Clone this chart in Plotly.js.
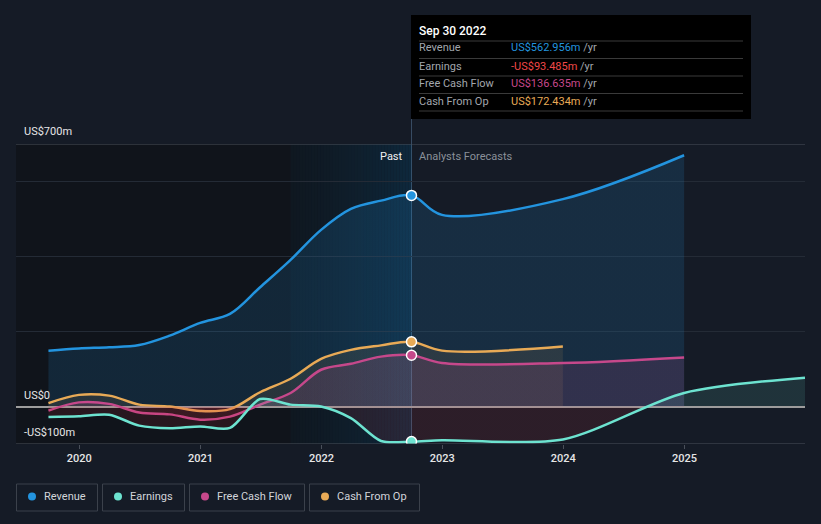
<!DOCTYPE html>
<html><head><meta charset="utf-8">
<script src="https://cdn.plot.ly/plotly-3.0.1.min.js"></script>
<style>html,body{margin:0;padding:0;background:#151b26;}#chart{width:821px;height:524px;}</style>
</head><body><div id="chart"></div>
<script>
// ---- data (US$ millions) ----
const pastDates = ['2019-09-30','2019-12-31','2020-03-31','2020-06-30','2020-09-30','2020-12-31','2021-03-31','2021-06-30','2021-09-30','2021-12-31','2022-03-31','2022-06-30','2022-09-30'];
const revenuePast  = [149,155,158,164,189,223,247,318,391,471,527,549,562.956];
const earningsPast = [-28,-26,-22,-51,-58,-53,-57,20,5,0,-31,-92,-93.485];
const fcfPast      = [-11,11,7,-16,-21,-35,-27,5,36,98,114,133,136.635];
const cfoPast      = [9,31,29,5,0,-12,-7,38,74,127,151,163,172.434];

const revenueForecastDates  = ['2022-12-31','2023-12-31','2024-12-31'];
const revenueForecast       = [511,553,670];
const earningsForecastDates = ['2022-12-31','2023-12-31','2024-12-31','2025-12-31'];
const earningsForecast      = [-90,-88,36,77];
const fcfForecastDates      = ['2022-12-31','2023-12-31','2024-12-31'];
const fcfForecast           = [116,116,131];
const cfoForecastDates      = ['2022-12-31','2023-12-31'];
const cfoForecast           = [149,160];

const yearTicks = ['2020-01-01','2021-01-01','2022-01-01','2023-01-01','2024-01-01','2025-01-01'];
const yearLabels = ['2020','2021','2022','2023','2024','2025'];
const seriesNames = ['Revenue','Earnings','Free Cash Flow','Cash From Op'];
const tooltipDate = 'Sep 30 2022';
const tooltipValues = ['US$562.956m','-US$93.485m','US$136.635m','US$172.434m'];

// ---- styling ----
const C = {rev:'#2394df', earn:'#6de3d0', fcf:'#c6488b', cfo:'#e8aa56'};
const FONT = 'Roboto, "Open Sans", Arial, sans-serif';
const W = 821, H = 524, L = 16, R = 16, T = 144, B = 80;
const pw = W - L - R, ph = H - T - B;
const px = x => (x - L) / pw;
const py = y => (H - B - y) / ph;

function hexA(hex, a){const n=parseInt(hex.slice(1),16);return `rgba(${n>>16},${(n>>8)&255},${n&255},${a})`;}
function splitFill(hex, aPos, aNeg){
  return {type:'vertical', start:-0.5, stop:0.5,
    colorscale:[[0, hexA('#d8303c', aNeg)], [1, hexA(hex, aPos)]]};
}

const lastPast = pastDates[pastDates.length-1];
function series(dates, vals, fdates, fvals, color, aPos, aNeg, sm){
  return {x: dates.concat(fdates), y: vals.concat(fvals), type:'scatter', mode:'lines',
    line:{color:color, width:2.5, shape:'spline', smoothing:sm},
    fill:'tozeroy', fillgradient: splitFill(color, aPos, aNeg), hoverinfo:'skip', showlegend:false};
}
function marker(vals, color){
  return {x:[lastPast], y:[vals[vals.length-1]], type:'scatter', mode:'markers',
    marker:{size:10, color:color, line:{color:'#ffffff', width:1.5}}, hoverinfo:'skip', showlegend:false};
}

const traces = [
  series(pastDates, revenuePast, revenueForecastDates, revenueForecast, C.rev, 0.15, 0.13, 1),
  series(pastDates, cfoPast, cfoForecastDates, cfoForecast, C.cfo, 0.10, 0.10, 1),
  series(pastDates, fcfPast, fcfForecastDates, fcfForecast, C.fcf, 0.15, 0.10, 1),
  series(pastDates, earningsPast, earningsForecastDates, earningsForecast, C.earn, 0.12, 0.12, 0.8),
  marker(revenuePast, C.rev), marker(cfoPast, C.cfo), marker(fcfPast, C.fcf), marker(earningsPast, C.earn)
];

const xRange = ['2019-06-24','2025-12-31'];
const shapes = [];
// darker past background
shapes.push({type:'rect', xref:'x', yref:'paper', x0:xRange[0], x1:'2021-09-30', y0:0, y1:1, fillcolor:'#10141b', line:{width:0}, layer:'below'});
// highlighted last-year gradient
(function(){
  const t0 = new Date('2021-09-30').getTime(), t1 = new Date('2022-09-30').getTime();
  const c0=[15,24,33], c1=[14,40,60], n=40;
  for(let i=0;i<n;i++){
    const f=(i+0.5)/n, g=Math.pow(f,1.4);
    const c=c0.map((v,k)=>Math.round(v+(c1[k]-v)*g));
    shapes.push({type:'rect', xref:'x', yref:'paper', x0:new Date(t0+(t1-t0)*i/n).toISOString(),
      x1:new Date(t0+(t1-t0)*(i+1)/n + 3600e3*12).toISOString(), y0:0, y1:1,
      fillcolor:`rgb(${c[0]},${c[1]},${c[2]})`, line:{width:0}, layer:'below'});
  }
})();
// cursor line
shapes.push({type:'line', xref:'x', yref:'paper', x0:lastPast, x1:lastPast, y0:0, y1:py(15), line:{color:'rgba(110,150,190,0.4)', width:1}, layer:'below'});
// top and bottom lines
shapes.push({type:'line', xref:'paper', yref:'y', x0:0, x1:1, y0:700, y1:700, line:{color:'#4a505a', width:1.2}, layer:'above'});
shapes.push({type:'line', xref:'paper', yref:'y', x0:0, x1:1, y0:-100, y1:-100, line:{color:'#4a505a', width:1.2}, layer:'above'});
// tooltip box
shapes.push({type:'rect', xref:'paper', yref:'paper', x0:px(411), x1:px(751), y0:py(119), y1:py(15), fillcolor:'#000000', line:{width:0}, layer:'above'});
[41,58.5,76,93.5,111].forEach(y=>shapes.push({type:'line', xref:'paper', yref:'paper', x0:px(419), x1:px(743), y0:py(y), y1:py(y), line:{color:'#3a3a3a', width:1}, layer:'above'}));
// legend boxes
const legendBoxes = [[16.5,97.5,44],[102.5,184.5,130],[189.5,304.5,217],[309.5,419.5,337]];
const legendColors = [C.rev, C.earn, C.fcf, C.cfo];
legendBoxes.forEach((b,i)=>{
  shapes.push({type:'rect', xref:'paper', yref:'paper', x0:px(b[0]), x1:px(b[1]), y0:py(511), y1:py(484), line:{color:'#3b414b', width:1}, fillcolor:'rgba(0,0,0,0)', layer:'above'});
  shapes.push({type:'circle', xref:'paper', yref:'paper', xsizemode:'pixel', ysizemode:'pixel', xanchor:px(b[0]+15.5), yanchor:py(496.5), x0:-4, x1:4, y0:-4, y1:4, fillcolor:legendColors[i], line:{width:0}, layer:'above'});
});

const ann = [];
const SHIFT = 2;
function txt(x, y, text, color, size, anchor, weight){
  const a = anchor||'left';
  ann.push({xref:'paper', yref:'paper', x:px(a==='left'? x-SHIFT : x+SHIFT), y:py(y), text:text, showarrow:false, xanchor:a, yanchor:'middle',
    font:{family:FONT, size:size||11, color:color, weight:weight||400}});
}
txt(24, 131, 'US$700m', '#e6e6e6', 11);
txt(24, 395, 'US$0', '#e6e6e6', 11);
txt(24, 432, '-US$100m', '#e6e6e6', 11);
txt(403, 156, 'Past', '#f0f0f0', 11, 'right');
txt(419, 156, 'Analysts Forecasts', '#8a9099', 11);
txt(419, 31, tooltipDate, '#ffffff', 12, 'left', 500);
const tipColors = [C.rev, '#f04848', C.fcf, C.cfo];
const rowsY = [48, 66, 83, 101];
seriesNames.forEach((n,i)=>{
  txt(419, rowsY[i], n, '#a2a6ad', 11);
  txt(511, rowsY[i], `<span style="color:${tipColors[i]}">${tooltipValues[i]}</span> /yr`, '#a2a6ad', 11);
});
legendBoxes.forEach((b,i)=> txt(b[2], 496.5, seriesNames[i], '#d2d5da', 11));

const layout = {
  width:W, height:H, margin:{l:L, r:R, t:T, b:B},
  paper_bgcolor:'#151b26', plot_bgcolor:'#151b26',
  font:{family:FONT, color:'#e6e6e6'},
  showlegend:false, hovermode:false,
  xaxis:{type:'date', range:xRange, tickvals:yearTicks, ticktext:yearLabels, ticks:'outside', ticklen:4, tickcolor:'#4a505a',
    showgrid:false, zeroline:false, showline:false, tickfont:{size:11, color:'#e6e6e6', family:FONT, weight:500}, fixedrange:true},
  yaxis:{range:[-100,700], tickvals:[-100,0,200,400,600,700], showticklabels:false, ticks:'', gridcolor:'#242b36', gridwidth:1,
    zeroline:true, zerolinecolor:'#9d9d9d', zerolinewidth:2, showline:false, fixedrange:true},
  shapes:shapes, annotations:ann
};
Plotly.newPlot('chart', traces, layout, {displayModeBar:false, staticPlot:true});
</script></body></html>
